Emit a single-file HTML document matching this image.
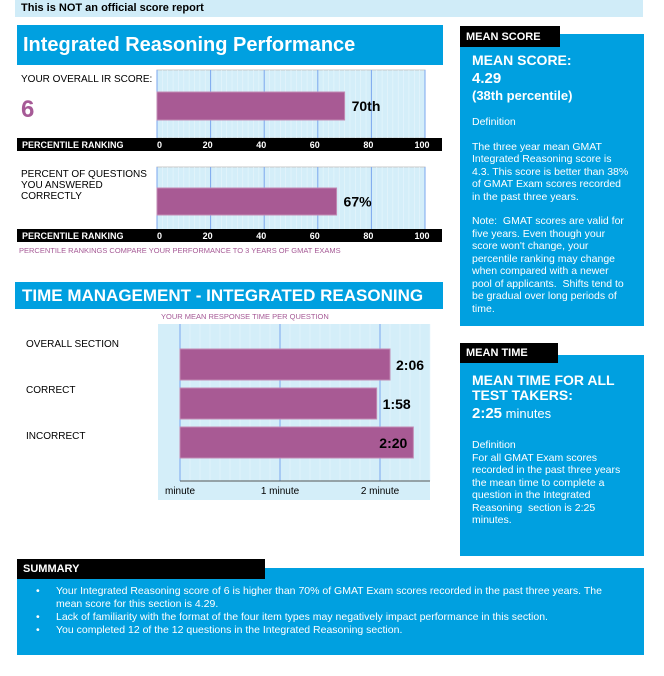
<!DOCTYPE html>
<html><head><meta charset="utf-8">
<style>
*{margin:0;padding:0;box-sizing:border-box}
body{width:664px;height:676px;background:#fff;position:relative;font-family:"Liberation Sans",Arial,sans-serif;overflow:hidden}
.a{position:absolute}
.blue{background:#00a0e0}
.blk{background:#000;color:#fff;font-weight:bold}
.w{color:#fff}
</style></head><body>
<div class="a" style="left:15px;top:0;width:628px;height:17px;background:#d0ecf8;font-size:11px;font-weight:bold;padding:2px 0 0 6px">This is NOT an official score report</div>

<div class="a blue w" style="left:17px;top:25px;width:426px;height:40px;font-size:20px;font-weight:bold;padding:9px 0 0 6px">Integrated Reasoning Performance</div>

<div class="a" style="left:21px;top:74px;font-size:10px">YOUR OVERALL IR SCORE:</div>
<div class="a" style="left:21px;top:96px;font-size:24px;font-weight:bold;color:#a65a96">6</div>
<div class="a" style="left:21px;top:169px;font-size:10px;line-height:11px">PERCENT OF QUESTIONS<br>YOU ANSWERED<br>CORRECTLY</div>

<svg class="a" id="c1" style="left:0;top:0" width="450" height="260"></svg>
<div class="a" style="left:19px;top:246px;font-size:7.5px;color:#a65a96">PERCENTILE RANKINGS COMPARE YOUR PERFORMANCE TO 3 YEARS OF GMAT EXAMS</div>

<div class="a blue w" style="left:15px;top:282px;width:428px;height:27px;font-size:17px;font-weight:bold;padding:4px 0 0 7px;white-space:nowrap">TIME MANAGEMENT - INTEGRATED REASONING</div>
<div class="a" style="left:161px;top:312px;font-size:7.5px;color:#a65a96">YOUR MEAN RESPONSE TIME PER QUESTION</div>
<div class="a" style="left:26px;top:339px;font-size:10px">OVERALL SECTION</div>
<div class="a" style="left:26px;top:385px;font-size:10px">CORRECT</div>
<div class="a" style="left:26px;top:431px;font-size:10px">INCORRECT</div>
<svg class="a" id="c2" style="left:0;top:0" width="450" height="510"></svg>

<div class="a blue" style="left:460px;top:34px;width:184px;height:292px"></div>
<div class="a blk" style="left:460px;top:26px;width:100px;height:21px;font-size:11px;padding:5px 0 0 6px">MEAN SCORE</div>
<div class="a w" style="left:472px;top:52px;width:158px;font-size:10.5px;line-height:12.5px">
<div style="font-size:14px;font-weight:bold;line-height:17px">MEAN SCORE:</div>
<div style="font-size:15px;font-weight:bold;line-height:19px">4.29</div>
<div style="font-size:13px;font-weight:bold;line-height:16px">(38th percentile)</div>
<div style="margin-top:12px">Definition</div>
<div style="margin-top:12px">The three year mean GMAT Integrated Reasoning score is 4.3. This score is better than 38% of GMAT Exam scores recorded in the past three years.</div>
<div style="margin-top:12px">Note:&nbsp; GMAT scores are valid for five years. Even though your score won't change, your percentile ranking may change when compared with a newer pool of applicants.&nbsp; Shifts tend to be gradual over long periods of time.</div>
</div>

<div class="a blue" style="left:460px;top:355px;width:184px;height:201px"></div>
<div class="a blk" style="left:460px;top:343px;width:98px;height:20px;font-size:11px;padding:4px 0 0 6px">MEAN TIME</div>
<div class="a w" style="left:472px;top:373px;width:158px;font-size:10.5px;line-height:12.5px">
<div style="font-size:14px;font-weight:bold;line-height:15px">MEAN TIME FOR ALL TEST TAKERS:</div>
<div style="font-size:13px;line-height:22px"><b style="font-size:15px">2:25</b> minutes</div>
<div style="margin-top:14px">Definition</div>
<div>For all GMAT Exam scores recorded in the past three years the mean time to complete a question in the Integrated Reasoning&nbsp; section is 2:25 minutes.</div>
</div>

<div class="a blue" style="left:17px;top:568px;width:627px;height:87px"></div>
<div class="a blk" style="left:17px;top:559px;width:248px;height:20px;font-size:11px;padding:4px 0 0 6px">SUMMARY</div>
<div class="a w" style="left:36px;top:585px;width:592px;font-size:10.5px;line-height:13px">
<div style="display:flex"><span style="width:20px">•</span><span style="flex:1">Your Integrated Reasoning score of 6 is higher than 70% of GMAT Exam scores recorded in the past three years. The mean score for this section is 4.29.</span></div>
<div style="display:flex"><span style="width:20px">•</span><span>Lack of familiarity with the format of the four item types may negatively impact performance in this section.</span></div>
<div style="display:flex"><span style="width:20px">•</span><span>You completed 12 of the 12 questions in the Integrated Reasoning section.</span></div>
</div>

<script>
const pctTicks=[0,20,40,60,80,100];
const pctValues=[70,67];
const pctLabels=["70th","67%"];
const timeCategories=["OVERALL SECTION","CORRECT","INCORRECT"];
const timeSeconds=[126,118,140];
const timeLabels=["2:06","1:58","2:20"];
const timeTicks=["minute","1 minute","2 minute"];

const NS="http://www.w3.org/2000/svg";
function mk(svg,tag,attrs,txt){const e=document.createElementNS(NS,tag);for(const k in attrs)e.setAttribute(k,attrs[k]);if(txt!=null)e.textContent=txt;svg.appendChild(e);return e;}

const c1=document.getElementById('c1');
const px=v=>157+v*2.68;
const panels=[{top:70,bot:138,barT:92,barB:120,ax:138},{top:167,bot:230,barT:188,barB:215,ax:229}];
panels.forEach((p,i)=>{
  let bg=mk(c1,'rect',{x:157,y:p.top,width:268,height:p.bot-p.top,fill:'#d4eef9',stroke:'#c8c8c8'});
  
  
  for(let v=0;v<=100;v+=2){mk(c1,'line',{x1:px(v),x2:px(v),y1:p.top,y2:p.bot,stroke:'#e8f6fc','stroke-width':0.6});}
  pctTicks.forEach(t=>{let g=mk(c1,'line',{x1:px(t),x2:px(t),y1:p.top,y2:p.bot,stroke:'#7aa6ee','stroke-width':1});
    
    });
  let b=mk(c1,'rect',{x:px(0),y:p.barT,width:px(pctValues[i])-px(0),height:p.barB-p.barT,fill:'#a85a94',stroke:'#c28bb4'});
  
  
  let l=mk(c1,'text',{x:px(pctValues[i])+7,y:(p.barT+p.barB)/2+5,'font-size':14,'font-weight':'bold'},pctLabels[i]);
  
  
  let ax=mk(c1,'rect',{x:17,y:p.ax,width:425,height:13,fill:'#000'});
  
  
  let at=mk(c1,'text',{x:22,y:p.ax+10,'font-size':9,'font-weight':'bold',fill:'#fff'},'PERCENTILE RANKING');
  
  
  pctTicks.forEach(t=>{let tl=mk(c1,'text',{x:px(t)+(t===0?0:-3),y:p.ax+10,'font-size':9,'font-weight':'bold',fill:'#fff','text-anchor':t===0?'start':'middle'},t);
    
    });
});

const c2=document.getElementById('c2');
const tx=s=>180+s*(100/60);
let bg2=mk(c2,'rect',{x:158,y:324,width:272,height:176,fill:'#d4eef9'});


for(let s=0;s<=150;s+=6){mk(c2,'line',{x1:tx(s),x2:tx(s),y1:324,y2:481,stroke:'#e8f6fc','stroke-width':0.6});}
[0,60,120].forEach(s=>{let g=mk(c2,'line',{x1:tx(s),x2:tx(s),y1:324,y2:481,stroke:'#7aa6ee'});
  
  });
let axl=mk(c2,'line',{x1:180,x2:430,y1:481,y2:481,stroke:'#555','stroke-width':1});


const barTops=[349,388,427];
timeSeconds.forEach((s,i)=>{
  let b=mk(c2,'rect',{x:tx(0),y:barTops[i],width:tx(s)-tx(0),height:31,fill:'#a85a94',stroke:'#c28bb4'});
  
  
  const inside=i===2;
  let l=mk(c2,'text',{x:inside?tx(s)-6:tx(s)+6,y:barTops[i]+21,'font-size':14,'font-weight':'bold','text-anchor':inside?'end':'start'},timeLabels[i]);
  
  
});
timeTicks.forEach((t,i)=>{let tl=mk(c2,'text',{x:tx(i*60),y:494,'font-size':10,'text-anchor':'middle'},t);
  
  });
</script>
</body></html>
